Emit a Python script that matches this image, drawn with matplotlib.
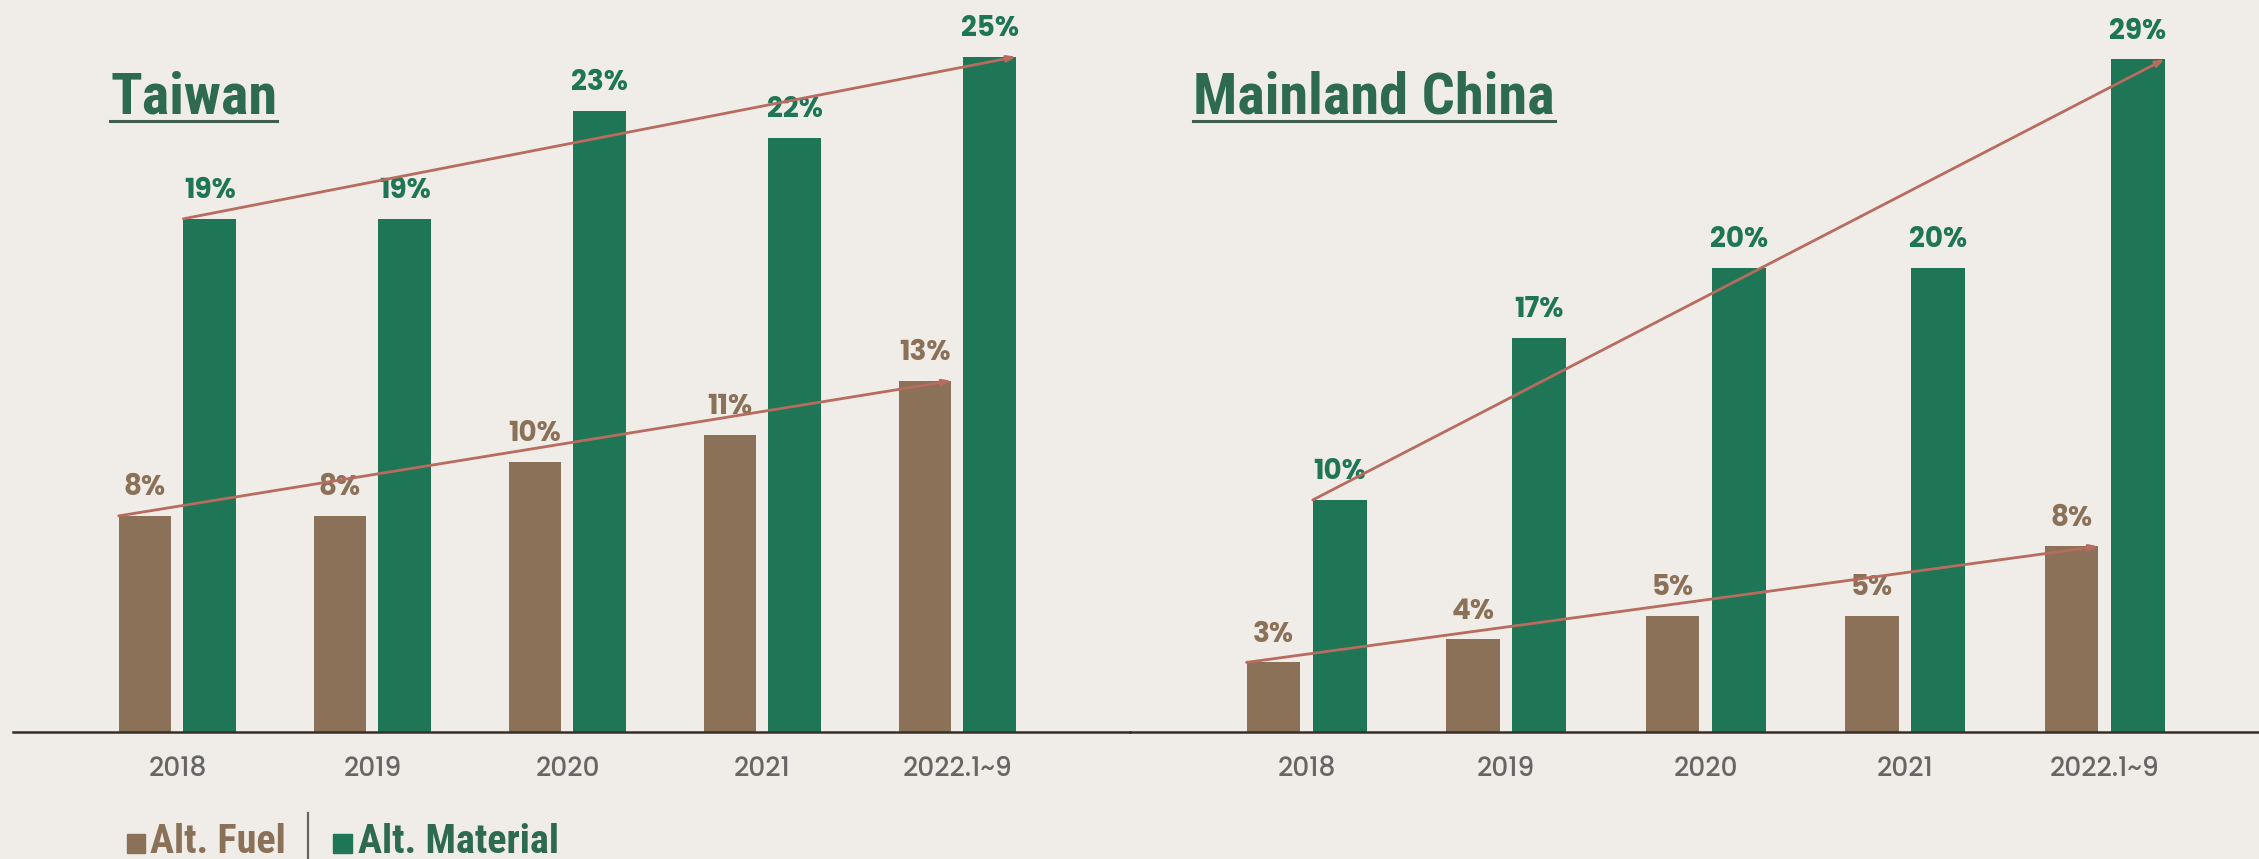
import matplotlib
matplotlib.use("Agg")
import matplotlib.pyplot as plt
from matplotlib.patches import Rectangle
from matplotlib.lines import Line2D

# values (%) per region
years = ["2018", "2019", "2020", "2021", "2022.1~9"]
taiwan_fuel = [8, 8, 10, 11, 13]
taiwan_material = [19, 19, 23, 22, 25]
china_fuel = [3, 4, 5, 5, 8]
china_material = [10, 17, 20, 20, 29]

BG = "#f0ece7"
GREEN = "#1e7656"
BROWN = "#8b7158"
TREND = "#b86b5f"
TITLE_GREEN = "#2d6a50"
NARROW = ["Roboto Condensed", "Archivo Narrow", "DejaVu Sans"]
LABEL = ["Poppins", "Roboto", "DejaVu Sans"]

W, H = 2259, 859
fig = plt.figure(figsize=(W / 100, H / 100), dpi=100, facecolor=BG)

bottom = 1 - 732 / H
height = 1 - bottom
bw = 0.27
off = 0.166


def panel(rect, xlim, ymax, fuel, material):
    ax = fig.add_axes(rect)
    ax.set_facecolor("none")
    x = list(range(len(years)))
    ax.bar([i - off for i in x], fuel, width=bw, color=BROWN, zorder=2)
    ax.bar([i + off for i in x], material, width=bw, color=GREEN, zorder=2)
    for i in x:
        ax.annotate(f"{fuel[i]}%", (i - off, fuel[i]), xytext=(0, 9),
                    textcoords="offset points", ha="center", va="bottom",
                    fontsize=20, fontweight="bold", family=LABEL, color=BROWN)
        ax.annotate(f"{material[i]}%", (i + off, material[i]), xytext=(0, 9),
                    textcoords="offset points", ha="center", va="bottom",
                    fontsize=20, fontweight="bold", family=LABEL, color=GREEN)
    # trend lines across the first and last bar of each series
    for vals, dx in ((fuel, -off), (material, off)):
        ax.annotate("", xy=(x[-1] + dx + bw / 2, vals[-1]),
                    xytext=(x[0] + dx - bw / 2, vals[0]),
                    arrowprops=dict(arrowstyle="-|>,head_length=0.5,head_width=0.18",
                                    color=TREND, lw=2.0, shrinkA=0, shrinkB=0),
                    zorder=4)
    ax.set_xlim(*xlim)
    ax.set_ylim(0, ymax)
    ax.set_xticks(x)
    ax.set_xticklabels(years, fontsize=19, family=LABEL, fontweight="medium",
                       color="#666666")
    ax.tick_params(axis="x", length=0, pad=17)
    ax.set_yticks([])
    for s in ("top", "left", "right"):
        ax.spines[s].set_visible(False)
    ax.spines["bottom"].set_color("#3a2e28")
    ax.spines["bottom"].set_linewidth(1.8)
    return ax


panel([13 / W, bottom, (1130 - 13) / W, height], (-0.843, 4.885), 27.1,
      taiwan_fuel, taiwan_material)
panel([1130 / W, bottom, (W - 1130) / W, height], (-0.885, 4.774), 31.55,
      china_fuel, china_material)

# underlined region titles
titles = [("Taiwan", 110), ("Mainland China", 1193)]
txts = []
for name, px in titles:
    t = fig.text(px / W, 1 - 113 / H, name, fontsize=42, fontweight="bold",
                 family=NARROW, color=TITLE_GREEN, ha="left", va="baseline")
    txts.append(t)
fig.canvas.draw()
r = fig.canvas.get_renderer()
for t in txts:
    bb = t.get_window_extent(renderer=r)
    fig.add_artist(Line2D([bb.x0 / W, bb.x1 / W], [1 - 121 / H] * 2,
                          transform=fig.transFigure, color="#3f5e4f", lw=2.2))

# legend
ly = 1 - 853 / H
fig.add_artist(Rectangle((127 / W, 1 - 853 / H), 18 / W, 19 / H,
                         transform=fig.transFigure, color=BROWN))
fig.text(150 / W, ly, "Alt. Fuel", fontsize=29, fontweight="bold", family=NARROW,
         color=BROWN, ha="left", va="baseline")
fig.add_artist(Line2D([308 / W] * 2, [0, 1 - 813 / H], transform=fig.transFigure,
                      color="#666666", lw=1.6))
fig.add_artist(Rectangle((333 / W, 1 - 853 / H), 19 / W, 19 / H,
                         transform=fig.transFigure, color=GREEN))
fig.text(358 / W, ly, "Alt. Material", fontsize=29, fontweight="bold", family=NARROW,
         color=TITLE_GREEN, ha="left", va="baseline")

fig.savefig("out.png", dpi=100, facecolor=BG)
